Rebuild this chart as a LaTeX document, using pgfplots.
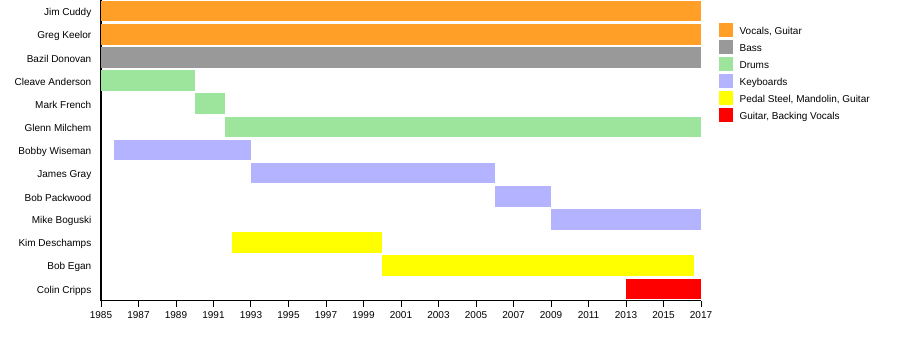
\documentclass[border=0pt]{standalone}
\usepackage{fontspec}
\setmainfont{Liberation Sans}
\usepackage{pgfplots}
\pgfplotsset{compat=1.18}
\definecolor{cVoc}{HTML}{FF9F27}
\definecolor{cBass}{HTML}{999999}
\definecolor{cDrum}{HTML}{9DE59D}
\definecolor{cKey}{HTML}{B3B3FF}
\definecolor{cPed}{HTML}{FFFF00}
\definecolor{cGuit}{HTML}{FF0000}
\newcommand{\tbar}[4]{\addplot[draw=#1, line width=20.6pt, mark=none, forget plot] coordinates {(#2,#4) (#3,#4)};}
\newcommand{\limg}[1]{\addlegendimage{legend image code/.code={\fill[#1] (0pt,-4.5pt) rectangle (13pt,8.5pt);}}}
\begin{document}
\begin{tikzpicture}
\path[use as bounding box, fill=white] (0,0) rectangle (900pt,360pt);
\begin{axis}[
  at={(101pt,59.5pt)}, anchor=south west,
  scale only axis, width=600pt, height=301pt,
  xmin=1985, xmax=2017, ymin=-0.5, ymax=12.5,
  axis x line=bottom, axis y line=left,
  axis line style={-, line width=1.1pt, black},
  xtick={1985,1987,...,2017},
  x tick label style={/pgf/number format/1000 sep={}, font=\fontsize{10}{12}\selectfont, yshift=-1pt},
  /pgf/number format/assume math mode=true,
  tick align=outside,
  xtick style={line width=1pt, black},
  major tick length=6pt,
  ytick={0,...,12},
  ytick style={draw=none},
  yticklabels={Colin Cripps, Bob Egan, Kim Deschamps, Mike Boguski, Bob Packwood, James Gray, Bobby Wiseman, Glenn Milchem, Mark French, Cleave Anderson, Bazil Donovan, Greg Keelor, Jim Cuddy},
  y tick label style={font=\fontsize{10}{12}\selectfont, inner sep=0pt, xshift=-3.5pt, yshift=-1.5pt},
  legend style={at={(1.025,0.928)}, anchor=north west, draw=none, fill=none,
    font=\fontsize{10}{12}\selectfont,
    nodes={inner sep=2pt, text height=7pt, text depth=2pt},
    row sep=1.8pt,
    /tikz/every odd column/.style={column sep=5pt}},
  legend cell align=left,
]
\limg{cVoc}\addlegendentry{Vocals, Guitar}
\limg{cBass}\addlegendentry{Bass}
\limg{cDrum}\addlegendentry{Drums}
\limg{cKey}\addlegendentry{Keyboards}
\limg{cPed}\addlegendentry{Pedal Steel, Mandolin, Guitar}
\limg{cGuit}\addlegendentry{Guitar, Backing Vocals}
\tbar{cVoc}{1985}{2017}{12}
\tbar{cVoc}{1985}{2017}{11}
\tbar{cBass}{1985}{2017}{10}
\tbar{cDrum}{1985}{1990}{9}
\tbar{cDrum}{1990}{1991.6}{8}
\tbar{cDrum}{1991.6}{2017}{7}
\tbar{cKey}{1985.7}{1993}{6}
\tbar{cKey}{1993}{2006}{5}
\tbar{cKey}{2006}{2009}{4}
\tbar{cKey}{2009}{2017}{3}
\tbar{cPed}{1992}{2000}{2}
\tbar{cPed}{2000}{2016.63}{1}
\tbar{cGuit}{2013}{2017}{0}
\end{axis}
\end{tikzpicture}
\end{document}
